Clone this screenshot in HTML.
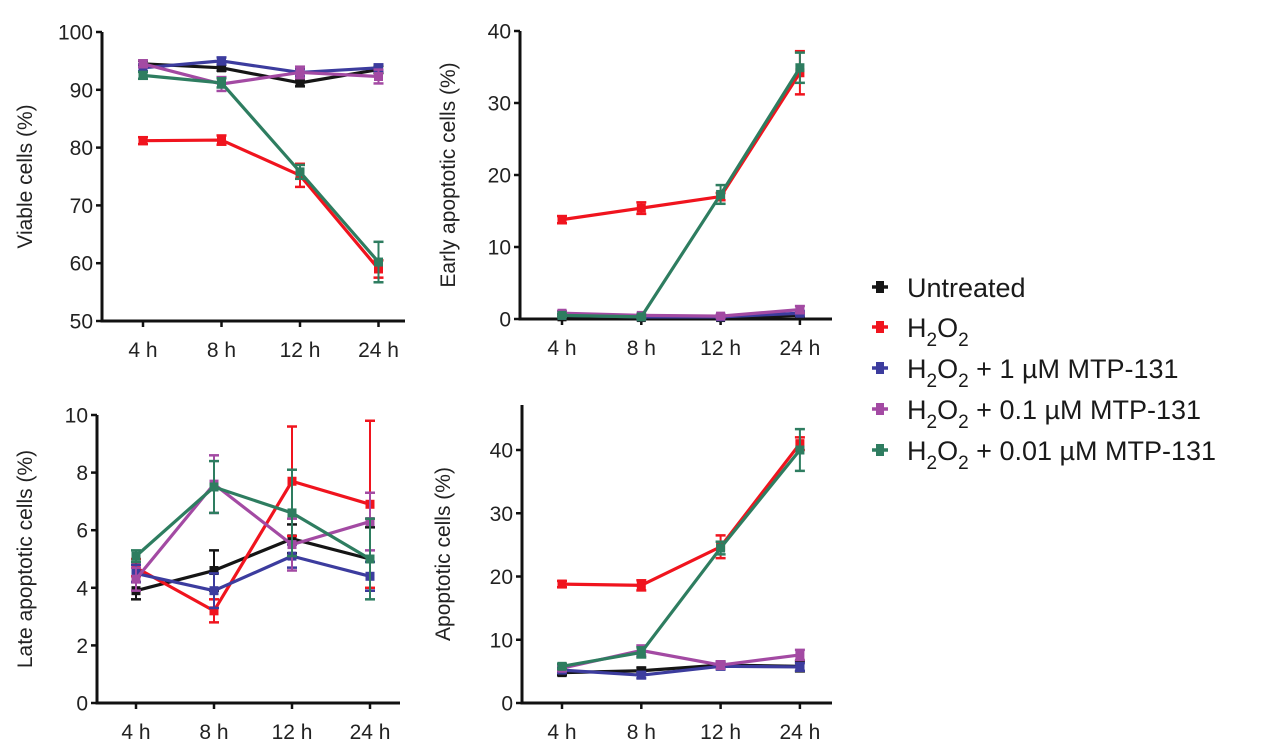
<!DOCTYPE html>
<html><head><meta charset="utf-8"><style>
html,body{margin:0;padding:0;background:#fff;}
svg{display:block;font-family:"Liberation Sans",sans-serif;}
</style></head><body>
<svg id="c" width="1270" height="755" viewBox="0 0 1270 755" xmlns="http://www.w3.org/2000/svg"></svg>
<script>
const categories = ["4 h","8 h","12 h","24 h"];
const seriesNames = ["Untreated","H2O2","H2O2 + 1 µM MTP-131","H2O2 + 0.1 µM MTP-131","H2O2 + 0.01 µM MTP-131"];
// Viable cells
const viableUntreated = [94.5, 93.8, 91.2, 93.5];
const viableH2O2 = [81.2, 81.3, 75.2, 59.0];
const viable1uM = [93.8, 95.0, 93.0, 93.8];
const viable01uM = [94.5, 91.0, 93.0, 92.3];
const viable001uM = [92.5, 91.2, 75.8, 60.2];
const viableErr = [[0.5,0.5,0.6,0.6],[0.6,0.8,2.0,1.5],[0.6,0.6,0.6,0.6],[0.6,1.2,1.0,1.2],[0.6,0.8,1.2,3.5]];
const viableTicks = [50,60,70,80,90,100];
// Early apoptotic
const earlyUntreated = [0.3, 0.2, 0.2, 0.5];
const earlyH2O2 = [13.8, 15.4, 17.0, 34.2];
const early1uM = [0.5, 0.3, 0.3, 0.8];
const early01uM = [0.8, 0.5, 0.4, 1.3];
const early001uM = [0.5, 0.3, 17.3, 34.9];
const earlyErr = [[0.2,0.2,0.2,0.3],[0.5,0.8,0.5,3.0],[0.2,0.2,0.2,0.3],[0.3,0.2,0.2,0.5],[0.2,0.2,1.3,2.1]];
const earlyTicks = [0,10,20,30,40];
// Late apoptotic
const lateUntreated = [3.9, 4.6, 5.7, 5.0];
const lateH2O2 = [4.7, 3.2, 7.7, 6.9];
const late1uM = [4.5, 3.9, 5.1, 4.4];
const late01uM = [4.3, 7.6, 5.5, 6.3];
const late001uM = [5.1, 7.5, 6.6, 5.0];
const lateErr = [[0.3,0.7,0.5,1.1],[0.3,0.4,1.9,2.9],[0.3,0.6,0.4,0.5],[0.4,1.0,0.9,1.0],[0.2,0.9,1.5,1.4]];
const lateTicks = [0,2,4,6,8,10];
// Apoptotic
const apoUntreated = [4.8, 5.1, 6.0, 5.8];
const apoH2O2 = [18.8, 18.6, 24.7, 41.0];
const apo1uM = [5.2, 4.4, 5.8, 5.7];
const apo01uM = [5.5, 8.3, 6.0, 7.6];
const apo001uM = [5.8, 8.0, 24.5, 40.0];
const apoErr = [[0.4,0.5,0.5,0.8],[0.5,0.8,1.8,1.0],[0.4,0.5,0.5,0.6],[0.4,0.8,0.6,0.8],[0.4,0.8,1.0,3.3]];
const apoTicks = [0,10,20,30,40];

const colors = ["#151515","#f0141e","#3c3c9e","#a34aa3","#2e7d60"];
const NS = "http://www.w3.org/2000/svg";
const svg = document.getElementById("c");
function mk(tag, attrs, parent){ const e=document.createElementNS(NS,tag); for(const k in attrs) e.setAttribute(k,attrs[k]); (parent||svg).appendChild(e); return e; }

function panel(cfg){
  const g = mk("g",{});
  
  
  const yS = v => cfg.y0 - (v - cfg.min) / (cfg.max - cfg.min) * (cfg.y0 - cfg.y1);
  const xS = i => cfg.xs[0] + i * cfg.dx;
  const ya = mk("line",{x1:cfg.ax,y1:cfg.top,x2:cfg.ax,y2:cfg.y0+1.5,stroke:"#111","stroke-width":3},g);
  
  
  const xa = mk("line",{x1:cfg.ax-1.5,y1:cfg.y0,x2:cfg.xend,y2:cfg.y0,stroke:"#111","stroke-width":3},g);
  
  
  cfg.ticks.forEach(t=>{
    const y=yS(t);
    mk("line",{x1:cfg.ax-6,y1:y,x2:cfg.ax,y2:y,stroke:"#111","stroke-width":2.5},g);
    const tx=mk("text",{x:cfg.ax-9,y:y+7.5,"text-anchor":"end","font-size":21,fill:"#222"},g);
    tx.textContent=t;
    
    
  });
  categories.forEach((c,i)=>{
    const x=xS(i);
    mk("line",{x1:x,y1:cfg.y0,x2:x,y2:cfg.y0+6,stroke:"#111","stroke-width":2.5},g);
    const tx=mk("text",{x:x,y:cfg.y0+36,"text-anchor":"middle","font-size":21,fill:"#222"},g);
    tx.textContent=c;
    
    
  });
  const ti=mk("text",{x:0,y:0,"text-anchor":"middle","font-size":21,fill:"#222",transform:`translate(${cfg.tx},${(cfg.top+cfg.y0)/2}) rotate(-90)`},g);
  ti.textContent=cfg.title;
  
  
  cfg.series.forEach((s,si)=>{
    const col=colors[si];
    const pts=s.map((v,i)=>xS(i)+","+yS(v)).join(" ");
    const pl=mk("polyline",{points:pts,fill:"none",stroke:col,"stroke-width":3.2,"stroke-linejoin":"round"},g);
    
    
    s.forEach((v,i)=>{
      const x=xS(i), e=cfg.err[si][i];
      const ytop=yS(v+e), ybot=yS(v-e);
      mk("line",{x1:x,y1:ytop,x2:x,y2:ybot,stroke:col,"stroke-width":2},g);
      mk("line",{x1:x-5,y1:ytop,x2:x+5,y2:ytop,stroke:col,"stroke-width":2.5},g);
      mk("line",{x1:x-5,y1:ybot,x2:x+5,y2:ybot,stroke:col,"stroke-width":2.5},g);
      const m=mk("rect",{x:x-4.5,y:yS(v)-4.5,width:9,height:9,fill:col},g);
      
      
    });
  });
}

panel({name:"viable-cells-panel",title:"Viable cells (%)",ax:102,top:32,y0:321,y1:32,min:50,max:100,xs:[143],dx:78.5,xend:405,tx:32,ticks:viableTicks,
  series:[viableUntreated,viableH2O2,viable1uM,viable01uM,viable001uM],err:viableErr});
panel({name:"early-apoptotic-panel",title:"Early apoptotic cells (%)",ax:520,top:31,y0:319,y1:31,min:0,max:40,xs:[562],dx:79.3,xend:832,tx:455,ticks:earlyTicks,
  series:[earlyUntreated,earlyH2O2,early1uM,early01uM,early001uM],err:earlyErr});
panel({name:"late-apoptotic-panel",title:"Late apoptotic cells (%)",ax:97,top:415,y0:703,y1:415,min:0,max:10,xs:[136],dx:78,xend:400,tx:32,ticks:lateTicks,
  series:[lateUntreated,lateH2O2,late1uM,late01uM,late001uM],err:lateErr});
panel({name:"apoptotic-panel",title:"Apoptotic cells (%)",ax:522,top:405,y0:703,y1:450,min:0,max:40,xs:[562],dx:79.3,xend:832,tx:450,ticks:apoTicks,
  series:[apoUntreated,apoH2O2,apo1uM,apo01uM,apo001uM],err:apoErr});

const lg = mk("g",{});


const legendY=[287,327,368,409,450];
const legendHtml=[
  'Untreated',
  'H<tspan dy="9" font-size="19">2</tspan><tspan dy="-9">O</tspan><tspan dy="9" font-size="19">2</tspan>',
  'H<tspan dy="9" font-size="19">2</tspan><tspan dy="-9">O</tspan><tspan dy="9" font-size="19">2</tspan><tspan dy="-9"> + 1 µM MTP-131</tspan>',
  'H<tspan dy="9" font-size="19">2</tspan><tspan dy="-9">O</tspan><tspan dy="9" font-size="19">2</tspan><tspan dy="-9"> + 0.1 µM MTP-131</tspan>',
  'H<tspan dy="9" font-size="19">2</tspan><tspan dy="-9">O</tspan><tspan dy="9" font-size="19">2</tspan><tspan dy="-9"> + 0.01 µM MTP-131</tspan>'
];
seriesNames.forEach((n,i)=>{
  const eg=mk("g",{},lg);
  
  
  const y=legendY[i];
  mk("line",{x1:872,y1:y,x2:888,y2:y,stroke:colors[i],"stroke-width":3.5},eg);
  mk("rect",{x:876,y:y-6,width:8,height:12,fill:colors[i]},eg);
  const t=mk("text",{x:907,y:y+10,"font-size":27,fill:"#1a1a1a"},eg);
  t.innerHTML=legendHtml[i];
});
</script>
</body></html>
